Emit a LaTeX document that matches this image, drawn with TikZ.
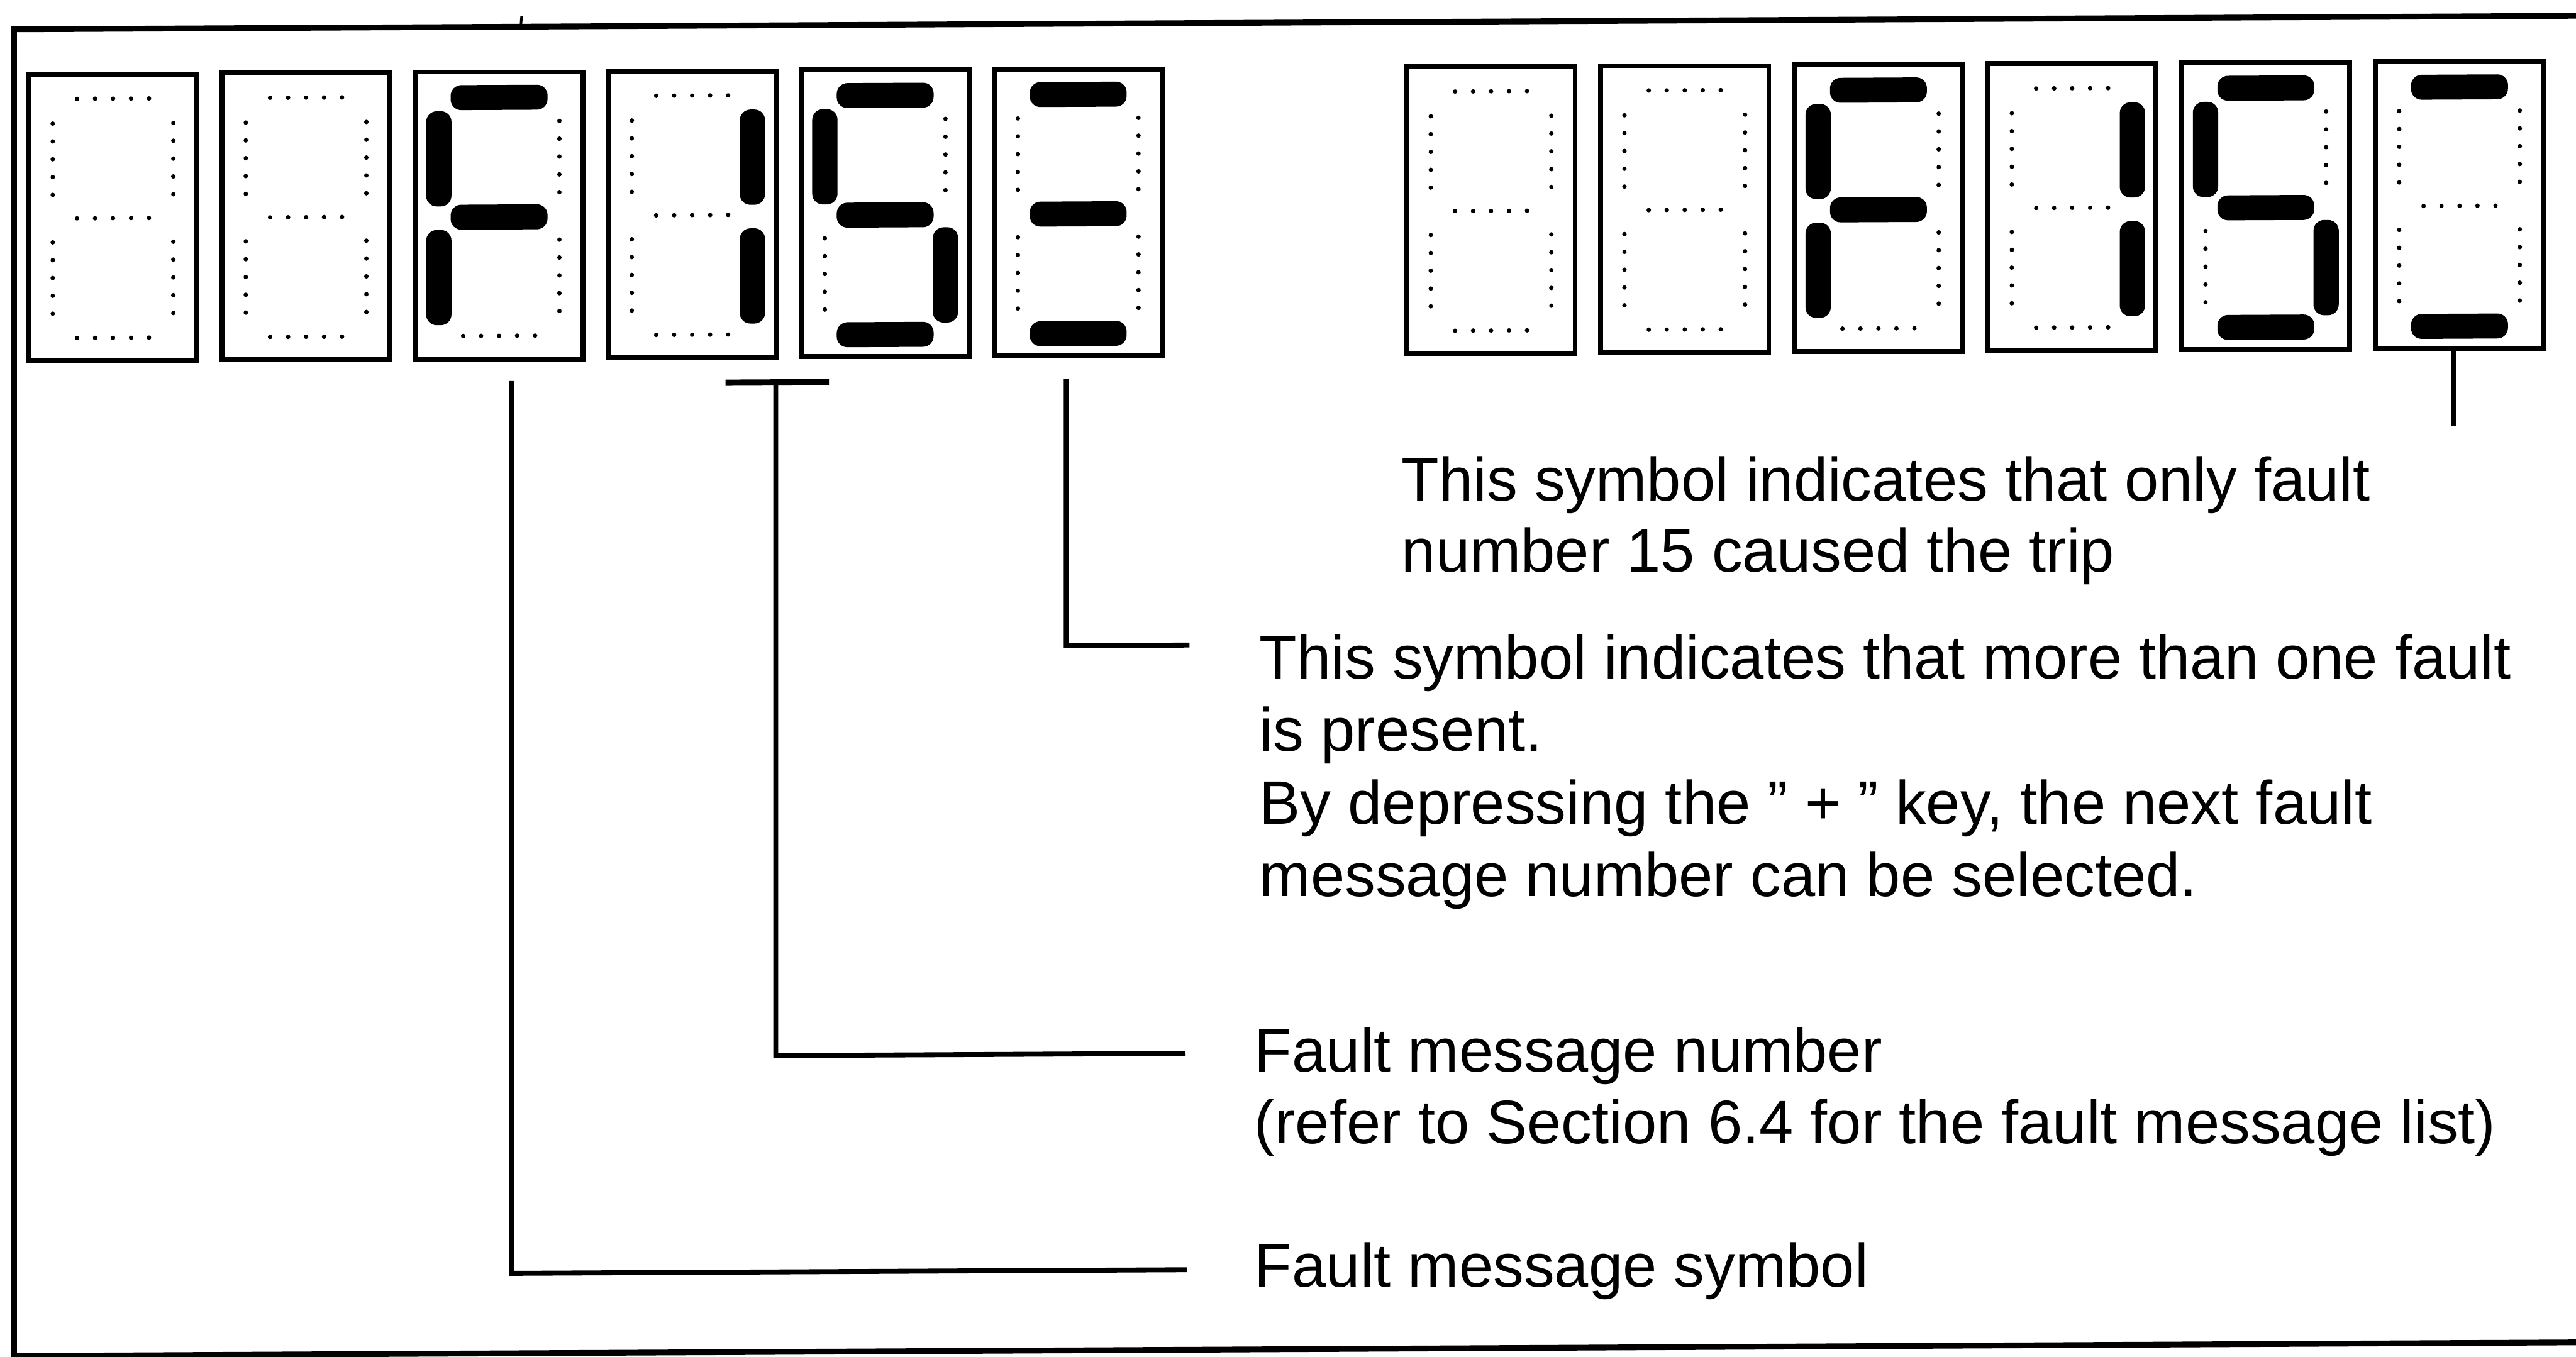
\documentclass[tikz,border=0pt]{standalone}
\usepackage{fontspec}
\setmainfont{Liberation Sans}
\usetikzlibrary{calc}
\tikzset{
  dbox/.style={draw, line width=0.03cm, minimum width=1.022cm, minimum height=1.745cm, inner sep=0pt},
  segfill/.style={rounded corners=0.065cm},
  conn/.style={line width=0.03cm},
  bracket/.style={line width=0.038cm},
  frame/.style={line width=0.035cm},
  txt/.style={anchor=base west, inner sep=0pt, font=\fontsize{10.62}{12.7}\selectfont},
}
\makeatletter
\newcommand\sevseg[4]{%
  \node[dbox] (#1) at ({#2+52.6},{#3+88.75}) {};
  \begin{scope}[shift={(#2,#3)}]
    \foreach \s/\cx/\cy/\ori in {a/52.6/16.9/h,b/89.3/54.1/v,c/89.3/126.4/v,d/52.6/162.5/h,e/15.9/126.4/v,f/15.9/54.1/v,g/52.6/89.7/h}{%
      \edef\sevtmp{\noexpand\in@{,\s,}{,#4,}}\sevtmp
      \ifin@
        \if h\ori
          \fill[segfill] ({\cx-29.5},{\cy-7.6}) rectangle ({\cx+29.5},{\cy+7.6});
        \else
          \fill[segfill] ({\cx-7.7},{\cy-29}) rectangle ({\cx+7.7},{\cy+29});
        \fi
      \else
        \if h\ori
          \foreach \k in {-2,...,2} \fill ({\cx+\k*10.95},{\cy-0.5}) circle (0.0135cm);
        \else
          \foreach \k in {-2,...,2} \fill ({\cx},{\cy-1+\k*10.85}) circle (0.0135cm);
        \fi
      \fi
    }
  \end{scope}}
\makeatother
\begin{document}
\begin{tikzpicture}[x=0.01cm,y=-0.01cm]
\useasboundingbox (0,0) rectangle (1568,826);
\begin{scope}[yslant=0.0053]
  % outer frame
  \draw[frame] (8.5,17.9) rectangle (1580,825.5);
  \draw[line width=0.015cm] (317.5,11.5) -- (317,18);
  % left display
  \sevseg{L1}{16.2}{44}{}
  \sevseg{L2}{133.7}{44}{}
  \sevseg{L3}{251.2}{44}{a,f,g,e}
  \sevseg{L4}{368.7}{44}{b,c}
  \sevseg{L5}{486.2}{44}{a,f,g,c,d}
  \sevseg{L6}{603.7}{44}{a,g,d}
  % right display
  \sevseg{R1}{855}{44}{}
  \sevseg{R2}{972.9}{44}{}
  \sevseg{R3}{1090.8}{44}{a,f,g,e}
  \sevseg{R4}{1208.7}{44}{b,c}
  \sevseg{R5}{1326.6}{44}{a,f,g,c,d}
  \sevseg{R6}{1444.5}{44}{a,d}
  % texts
  \node[txt] (tOnly1) at (852.5,309.3) {This symbol indicates that only fault};
  \node[txt] (tOnly2) at (852.5,352.6) {number 15 caused the trip};
  \node[txt] (tMore1) at (766,417.4) {This symbol indicates that more than one fault};
  \node[txt] (tMore2) at (766,461.5) {is present.};
  \node[txt] (tMore3) at (766,505.6) {By depressing the " + " key, the next fault};
  \node[txt] (tMore4) at (766,549.7) {message number can be selected.};
  \node[txt] (tNum1) at (763,656.6) {Fault message number};
  \node[txt] (tNum2) at (763,700.1) {(refer to Section 6.4 for the fault message list)};
  \node[txt] (tSym) at (763,787.4) {Fault message symbol};
  % connectors
  \coordinate (c1a) at (311.3,233.6);
  \coordinate (c1b) at (722.4,776.8);
  \draw[conn] (c1a) |- (c1b);
  \coordinate (c2l) at (441.6,235.3);
  \coordinate (c2r) at (504.6,235.3);
  \draw[bracket] (c2l) -- (c2r);
  \coordinate (c2a) at (472.2,235.3);
  \coordinate (c2b) at (721.6,645.1);
  \draw[conn] (c2a) |- (c2b);
  \coordinate (c3a) at (649,234);
  \coordinate (c3b) at (724,396.5);
  \draw[conn] (c3a) |- (c3b);
  \draw[conn] ($(R6.south)+(-3.8,0)$) -- ++(0,45.4);
\end{scope}
\end{tikzpicture}
\end{document}
